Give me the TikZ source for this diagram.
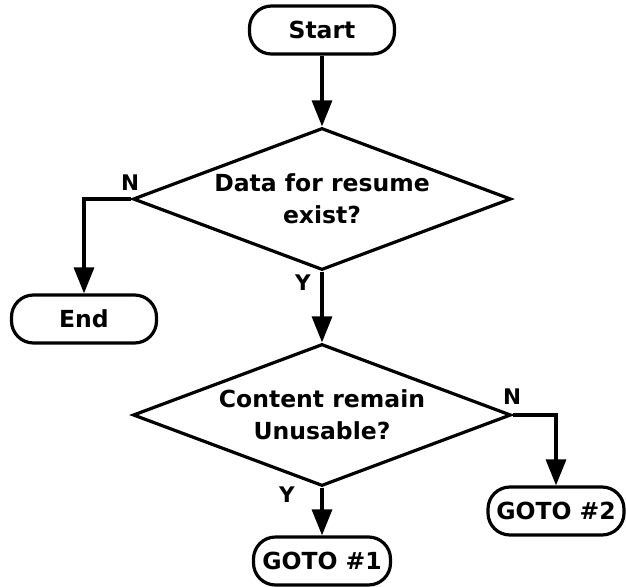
\documentclass[tikz,border=0pt]{standalone}
\usepackage{fontspec}
\setmainfont{DejaVu Sans}
\usetikzlibrary{shapes.geometric}
\usetikzlibrary{arrows.meta}

\tikzset{
    terminal/.style={draw, line width=3.2pt, rounded corners=22pt,
        minimum width=145pt, minimum height=48pt, inner sep=0pt,
        font=\fontsize{23.5}{32}\selectfont\bfseries},
    decision/.style={draw, diamond, aspect=2.66, line width=3.2pt,
        inner sep=0pt, minimum width=378pt, minimum height=142pt,
        align=center, font=\fontsize{23.5}{32}\selectfont\bfseries},
    flow/.style={line width=3.2pt, -{Triangle[length=26pt, width=20pt]}},
    answer/.style={font=\fontsize{21.5}{24}\selectfont\bfseries}
}

\begin{document}
\begin{tikzpicture}[x=1pt, y=1pt]
    \useasboundingbox (0,0) rectangle (626,-586);

    % nodes
    \node[terminal] (start) at (322,-30) {Start};
    \node[decision] (resume) at (322,-199) {Data for resume\\exist?};
    \node[terminal] (end) at (84,-319) {End};
    \node[decision] (content) at (322,-415) {Content remain\\Unusable?};
    \node[terminal, minimum width=137pt] (goto1) at (322,-561) {GOTO \#1};
    \node[terminal, minimum width=136pt] (goto2) at (556,-511) {GOTO \#2};

    % answers
    \node[answer] (noresume) at (130,-183) {N};
    \node[answer] (yesresume) at (303,-283) {Y};
    \node[answer] (nocontent) at (512,-397) {N};
    \node[answer] (yescontent) at (287,-495) {Y};

    % connectors
    \draw[flow] (start) -- (resume);
    \draw[flow] (resume.west) -| (end);
    \draw[flow] (resume) -- (content);
    \draw[flow] (content.east) -| (goto2);
    \draw[flow] (content) -- (goto1);
\end{tikzpicture}
\end{document}
